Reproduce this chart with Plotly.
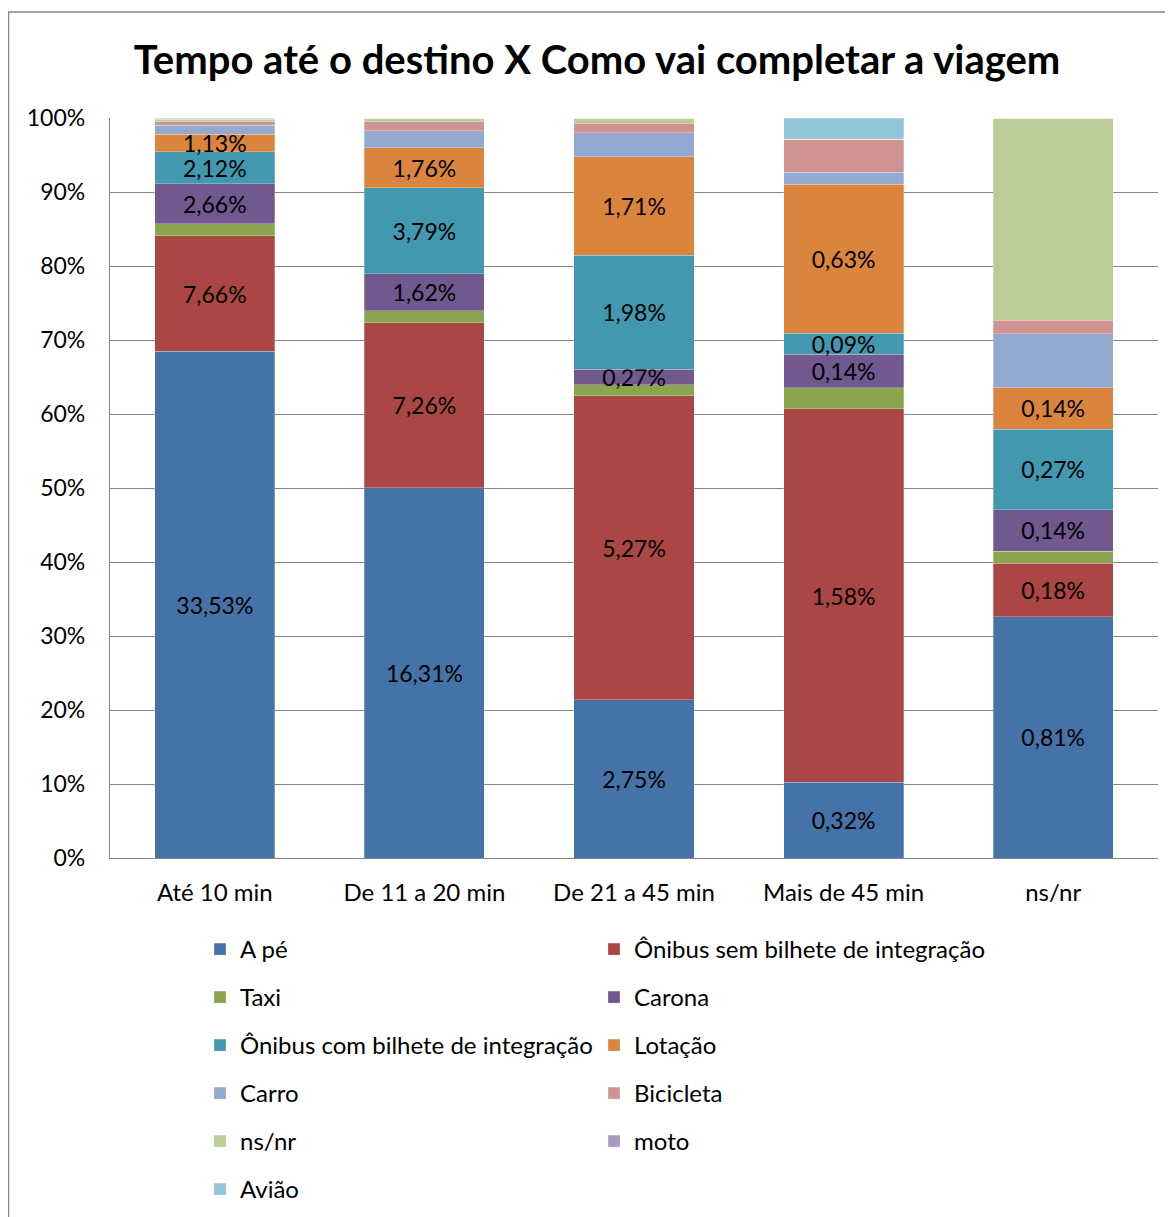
import plotly.graph_objects as go

categories = ["Até 10 min", "De 11 a 20 min", "De 21 a 45 min", "Mais de 45 min", "ns/nr"]

series_names = ["A pé", "Ônibus sem bilhete de integração", "Taxi", "Carona",
                "Ônibus com bilhete de integração", "Lotação", "Carro", "Bicicleta",
                "ns/nr", "moto", "Avião"]

a_pe = [33.53, 16.31, 2.75, 0.32, 0.81]
onibus_sem = [7.66, 7.26, 5.27, 1.58, 0.18]
taxi = [0.79, 0.53, 0.19, 0.09, 0.04]
carona = [2.66, 1.62, 0.27, 0.14, 0.14]
onibus_com = [2.12, 3.79, 1.98, 0.09, 0.27]
lotacao = [1.13, 1.76, 1.71, 0.63, 0.14]
carro = [0.62, 0.75, 0.41, 0.05, 0.18]
bicicleta = [0.22, 0.40, 0.17, 0.14, 0.045]
ns_nr = [0.16, 0.16, 0.09, 0.0, 0.68]
moto = [0.09, 0.0, 0.0, 0.0, 0.0]
aviao = [0.0, 0.0, 0.0, 0.09, 0.0]

series_values = [a_pe, onibus_sem, taxi, carona, onibus_com, lotacao, carro,
                 bicicleta, ns_nr, moto, aviao]
labeled = [True, True, False, True, True, True, False, False, False, False, False]

colors = ["#4572A7", "#AA4643", "#89A54E", "#71588F", "#4198AF", "#DB843D",
          "#93A9CF", "#D19392", "#B9CD96", "#A99BBD", "#92C5D7"]

FONT = "Lato"

fig = go.Figure()
for i, (name, vals) in enumerate(zip(series_names, series_values)):
    if labeled[i]:
        txt = [("%.2f%%" % v).replace(".", ",") for v in vals]
    else:
        txt = None
    fig.add_trace(go.Bar(
        x=categories, y=vals, name=name,
        marker=dict(color=colors[i], line=dict(color="rgba(255,255,255,0.35)", width=0.8)),
        text=txt, textposition="inside" if labeled[i] else "none",
        insidetextanchor="middle", textangle=0, constraintext="none",
        textfont=dict(family=FONT, size=23, color="black"),
        legendgroup="g%d" % i,
        hoverinfo="x+y+name",
    ))

# page body has an 8px margin, so the figure is laid out 8px smaller
OFF = 8
W, H = 1173 - OFF, 1217 - OFF
L, T = 110 - OFF, 118 - OFF
pw, ph = 1048, 740
R = W - L - pw
B = H - T - ph

fig.update_layout(
    width=W, height=H,
    barmode="stack", barnorm="percent", bargap=0.427,
    margin=dict(l=L, r=R, t=T, b=B, autoexpand=False),
    paper_bgcolor="white", plot_bgcolor="white",
    font=dict(family=FONT, color="black"),
    title=dict(text="<b>Tempo até o destino X Como vai completar a viagem</b>",
               font=dict(family=FONT, size=40, color="black"),
               x=(597 - OFF) / W, xanchor="center", xref="container",
               y=1 - (60 - OFF) / H, yanchor="middle", yref="container"),
    uniformtext=dict(minsize=23, mode="show"),
    xaxis=dict(showgrid=False, showline=True, linecolor="#868686", linewidth=1.3,
               ticks="", tickfont=dict(family=FONT, size=24, color="black"),
               ticklabelstandoff=13),
    yaxis=dict(range=[0, 100], dtick=10, ticksuffix="%", showgrid=True,
               gridcolor="#868686", gridwidth=1.3, showline=True,
               linecolor="#868686", linewidth=1.3, zeroline=False, ticks="",
               tickfont=dict(family=FONT, size=23, color="black"),
               ticklabelstandoff=19),
    legend=dict(orientation="h", traceorder="grouped", tracegroupgap=13.8,
                entrywidth=349, entrywidthmode="pixels",
                x=(200 - OFF - L) / pw, xanchor="left",
                y=-(927 - OFF - (T + ph)) / ph, yanchor="top",
                font=dict(family=FONT, size=24, color="black"),
                bgcolor="rgba(0,0,0,0)"),
    showlegend=True,
)

# chart border (Excel chart area frame)
fig.add_shape(type="rect", xref="paper", yref="paper",
              x0=(0.5 - L) / pw, x1=(W + 20 - L) / pw,
              y0=-(H + 20 - (T + ph)) / ph, y1=1 + (T - 4) / ph,
              line=dict(color="#868686", width=1.5), fillcolor="rgba(0,0,0,0)",
              layer="below")

fig.write_html("out.html")
